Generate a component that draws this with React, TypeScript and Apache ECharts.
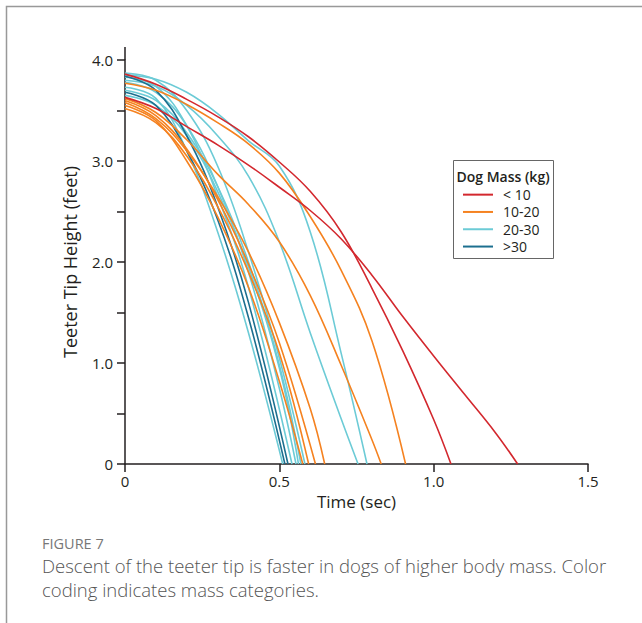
import React, { useEffect, useRef } from "react";
import * as echarts from "echarts";

// Legend categories (dog mass) and their colours
const groupNames = ["< 10", "10-20", "20-30", ">30"];
const groupColors = ["#d3282e", "#f58220", "#6ccbd6", "#1c6f8f"];

// Axis tick labels
const xTickLabels: Record<string, string> = { "0": "0", "0.5": "0.5", "1": "1.0", "1.5": "1.5" };
const yTickLabels: Record<string, string> = { "0": "0", "1": "1.0", "2": "2.0", "3": "3.0", "4": "4.0" };

// Curves: [time (s), teeter tip height (ft)]
// < 10 kg
const redA = [[0, 3.86], [0.1, 3.76], [0.2, 3.61], [0.3, 3.44], [0.4, 3.24], [0.5, 2.99], [0.6, 2.7], [0.7, 2.3], [0.8, 1.74], [0.9, 1.12], [1.0, 0.44], [1.056, 0]];
const redB = [[0, 3.63], [0.1, 3.52], [0.2, 3.34], [0.3, 3.16], [0.4, 2.96], [0.5, 2.74], [0.6, 2.51], [0.7, 2.23], [0.8, 1.87], [0.9, 1.46], [1.0, 1.07], [1.1, 0.69], [1.2, 0.31], [1.272, 0]];
// 10-20 kg
const orange1 = [[0, 3.55], [0.1, 3.4], [0.2, 3.0], [0.3, 2.45], [0.4, 1.75], [0.5, 0.82], [0.576, 0]];
const orange2 = [[0, 3.52], [0.1, 3.38], [0.2, 3.05], [0.3, 2.55], [0.4, 1.9], [0.5, 1.1], [0.595, 0]];
const orange3 = [[0, 3.6], [0.1, 3.45], [0.2, 3.12], [0.3, 2.62], [0.4, 1.98], [0.5, 1.2], [0.617, 0]];
const orange4 = [[0, 3.58], [0.1, 3.42], [0.2, 3.1], [0.3, 2.65], [0.4, 2.1], [0.5, 1.4], [0.6, 0.55], [0.647, 0]];
const orange5 = [[0, 3.62], [0.1, 3.48], [0.2, 3.21], [0.3, 2.87], [0.4, 2.57], [0.5, 2.2], [0.6, 1.67], [0.7, 0.98], [0.8, 0.24], [0.83, 0]];
const orange6 = [[0, 3.77], [0.1, 3.7], [0.2, 3.56], [0.3, 3.38], [0.4, 3.17], [0.5, 2.88], [0.6, 2.45], [0.7, 1.92], [0.8, 1.22], [0.909, 0]];
// 20-30 kg
const cyan1 = [[0, 3.73], [0.1, 3.62], [0.2, 3.1], [0.3, 2.3], [0.4, 1.3], [0.511, 0]];
const cyan2 = [[0, 3.83], [0.1, 3.74], [0.2, 3.35], [0.3, 2.65], [0.4, 1.75], [0.541, 0]];
const cyan3 = [[0, 3.78], [0.1, 3.68], [0.2, 3.35], [0.3, 2.75], [0.4, 1.9], [0.5, 0.75], [0.554, 0]];
const cyan4 = [[0, 3.65], [0.1, 3.55], [0.2, 3.25], [0.3, 2.7], [0.4, 1.95], [0.5, 0.95], [0.562, 0]];
const cyan5 = [[0, 3.7], [0.1, 3.6], [0.2, 3.28], [0.3, 2.75], [0.4, 2.0], [0.5, 0.98], [0.57, 0]];
const cyan6 = [[0, 3.87], [0.1, 3.8], [0.2, 3.5], [0.3, 2.95], [0.4, 2.1], [0.5, 1.05], [0.583, 0]];
const cyan7 = [[0, 3.8], [0.1, 3.74], [0.2, 3.55], [0.3, 3.25], [0.4, 2.85], [0.5, 2.2], [0.6, 1.3], [0.7, 0.45], [0.755, 0]];
const cyan8 = [[0, 3.85], [0.1, 3.81], [0.2, 3.68], [0.3, 3.47], [0.4, 3.2], [0.5, 2.95], [0.6, 2.3], [0.7, 1.1], [0.784, 0]];
// > 30 kg
const dark1 = [[0, 3.68], [0.1, 3.55], [0.2, 3.1], [0.3, 2.42], [0.4, 1.45], [0.518, 0]];
const dark2 = [[0, 3.84], [0.1, 3.7], [0.2, 3.25], [0.3, 2.55], [0.4, 1.6], [0.528, 0]];

const curves: { group: number; data: number[][] }[] = [
  { group: 2, data: cyan1 }, { group: 2, data: cyan2 }, { group: 2, data: cyan3 }, { group: 2, data: cyan4 },
  { group: 2, data: cyan5 }, { group: 2, data: cyan6 }, { group: 2, data: cyan7 }, { group: 2, data: cyan8 },
  { group: 3, data: dark1 }, { group: 3, data: dark2 },
  { group: 1, data: orange1 }, { group: 1, data: orange2 }, { group: 1, data: orange3 }, { group: 1, data: orange4 },
  { group: 1, data: orange5 }, { group: 1, data: orange6 },
  { group: 0, data: redA }, { group: 0, data: redB },
];

const FONT = "'Open Sans', 'Noto Sans', sans-serif";

export default function App() {
  const ref = useRef<HTMLDivElement>(null);
  useEffect(() => {
    if (!ref.current) return;
    const chart = echarts.init(ref.current, null, { renderer: "svg" });
    const series: any[] = curves.map((c) => ({
      type: "line",
      name: groupNames[c.group],
      data: c.data,
      smooth: 0.4,
      showSymbol: false,
      symbol: "none",
      lineStyle: { color: groupColors[c.group], width: 1.6 },
      itemStyle: { color: groupColors[c.group] },
      silent: true,
    }));
    chart.setOption({
      animation: false,
      grid: { left: 125, right: 54, top: 60, bottom: 159, containLabel: false },
      xAxis: {
        type: "value",
        min: 0,
        max: 1.5,
        interval: 0.5,
        name: "Time (sec)",
        nameLocation: "middle",
        nameGap: 23,
        nameTextStyle: { fontFamily: FONT, fontSize: 17, color: "#231f20" },
        axisLine: { show: true, lineStyle: { color: "#231f20", width: 1.5 } },
        axisTick: { show: true, length: 8, lineStyle: { color: "#231f20", width: 1.5 } },
        axisLabel: {
          fontFamily: FONT, fontSize: 15, color: "#231f20", margin: 9,
          formatter: (v: number) => xTickLabels[String(v)] ?? "",
        },
        splitLine: { show: false },
      },
      yAxis: {
        type: "value",
        min: 0,
        max: 4,
        interval: 0.5,
        name: "Teeter Tip Height (feet)",
        nameLocation: "middle",
        nameRotate: 90,
        nameGap: 46.5,
        nameTextStyle: { fontFamily: FONT, fontSize: 18, color: "#231f20" },
        axisLine: { show: true, lineStyle: { color: "#231f20", width: 1.5 } },
        axisTick: { show: true, length: 8, lineStyle: { color: "#231f20", width: 1.5 } },
        axisLabel: {
          fontFamily: FONT, fontSize: 15, color: "#231f20", margin: 12,
          formatter: (v: number) => yTickLabels[String(v)] ?? "",
        },
        splitLine: { show: false },
      },
      legend: {
        data: groupNames,
        orient: "vertical",
        left: 463,
        top: 186,
        icon: "rect",
        itemWidth: 30,
        itemHeight: 2,
        itemGap: 0,
        padding: 0,
        selectedMode: false,
        textStyle: { fontFamily: FONT, fontSize: 14, color: "#231f20", lineHeight: 17.3, height: 17.3, padding: [0, 0, 0, 5] },
      },
      graphic: [
        { type: "rect", shape: { x: 6.5, y: 6.5, width: 800, height: 800 }, style: { fill: "none", stroke: "#999", lineWidth: 1.5 }, silent: true },
        { type: "line", shape: { x1: 125, y1: 47, x2: 125, y2: 60 }, style: { stroke: "#231f20", lineWidth: 1.5 }, silent: true },
        { type: "rect", shape: { x: 453.5, y: 160.5, width: 100, height: 98 }, style: { fill: "none", stroke: "#666", lineWidth: 1 }, silent: true },
        { type: "text", x: 503, y: 176, style: { text: "Dog Mass (kg)", fontFamily: FONT, fontSize: 14, fontWeight: 600, fill: "#231f20", textAlign: "center", textVerticalAlign: "middle" }, silent: true },
        { type: "text", x: 42, y: 543, style: { text: "FIGURE 7", fontFamily: FONT, fontSize: 14.5, fontWeight: 400, fill: "#777", textVerticalAlign: "middle" }, silent: true },
        { type: "text", x: 42, y: 565, style: { text: "Descent of the teeter tip is faster in dogs of higher body mass. Color", fontFamily: FONT, fontSize: 18.5, fontWeight: 300, fill: "#555", textVerticalAlign: "middle" }, silent: true },
        { type: "text", x: 42, y: 589, style: { text: "coding indicates mass categories.", fontFamily: FONT, fontSize: 18.5, fontWeight: 300, fill: "#555", textVerticalAlign: "middle" }, silent: true },
      ],
      series,
    });
    return () => chart.dispose();
  }, []);
  return (
    <div
      ref={ref}
      style={{ position: "fixed", left: 0, top: 0, width: 642, height: 623, background: "#fff" }}
    />
  );
}
